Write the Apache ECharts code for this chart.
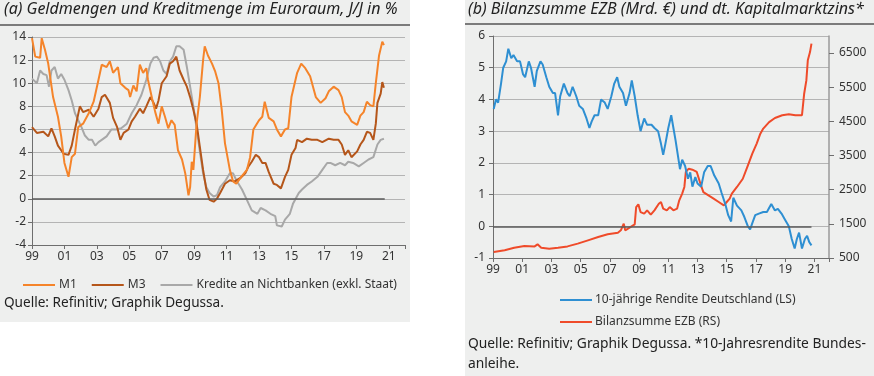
<!DOCTYPE html>
<html>
<head>
<meta charset="utf-8">
<script src="https://cdn.jsdelivr.net/npm/echarts@6/dist/echarts.min.js"></script>
<style>
  html, body { margin: 0; padding: 0; background: #fff; }
  #chart { width: 874px; height: 376px; }
</style>
</head>
<body>
<div id="chart"></div>
<script>
// --- panel (a): money supply and credit, y/y in % ---
const m1Years = [1999.0, 1999.2, 1999.5, 1999.6, 1999.8, 2000.0, 2000.3, 2000.6, 2000.8, 2001.0, 2001.25, 2001.45, 2001.65, 2001.85, 2002.15, 2002.5, 2002.8, 2003.1, 2003.3, 2003.6, 2003.8, 2004.0, 2004.3, 2004.45, 2004.75, 2004.95, 2005.05, 2005.25, 2005.45, 2005.65, 2005.85, 2006.05, 2006.15, 2006.4, 2006.6, 2006.8, 2007.0, 2007.2, 2007.4, 2007.6, 2007.8, 2008.0, 2008.25, 2008.45, 2008.65, 2008.75, 2008.85, 2008.95, 2009.15, 2009.35, 2009.55, 2009.65, 2009.85, 2010.1, 2010.3, 2010.5, 2010.7, 2010.9, 2011.2, 2011.4, 2011.6, 2011.9, 2012.25, 2012.45, 2012.65, 2013.0, 2013.2, 2013.35, 2013.6, 2013.9, 2014.1, 2014.35, 2014.6, 2014.8, 2015.0, 2015.35, 2015.6, 2015.85, 2016.15, 2016.5, 2016.8, 2017.1, 2017.3, 2017.6, 2017.9, 2018.1, 2018.3, 2018.5, 2018.7, 2019.05, 2019.25, 2019.45, 2019.65, 2019.85, 2020.05, 2020.2, 2020.4, 2020.6, 2020.7];
const m1Values = [13.9, 12.3, 12.2, 13.9, 12.9, 11.7, 8.8, 7.1, 5.4, 3.1, 1.9, 3.6, 3.9, 6.2, 6.5, 7.4, 8.4, 10.3, 11.6, 11.4, 11.9, 10.9, 11.4, 10.0, 9.6, 9.4, 8.8, 9.8, 9.3, 11.6, 10.9, 11.3, 10.3, 8.7, 7.5, 6.5, 8.0, 7.1, 6.1, 6.8, 6.4, 4.2, 3.4, 2.2, 0.3, 1.0, 3.2, 2.5, 6.5, 8.8, 12.0, 13.2, 12.4, 11.7, 11.0, 10.0, 7.7, 4.8, 2.5, 1.5, 1.3, 1.9, 2.5, 3.6, 6.0, 6.8, 7.1, 8.4, 7.0, 6.7, 6.0, 5.4, 6.0, 6.1, 8.8, 10.9, 11.7, 11.3, 10.6, 8.8, 8.3, 8.7, 9.3, 9.7, 9.4, 8.8, 7.5, 7.2, 6.7, 6.4, 7.2, 7.5, 8.4, 8.1, 8.0, 10.0, 12.4, 13.6, 13.3];

const m3Years = [1999.0, 1999.3, 1999.7, 2000.0, 2000.2, 2000.4, 2000.6, 2000.95, 2001.25, 2001.45, 2001.65, 2001.95, 2002.15, 2002.5, 2002.8, 2003.1, 2003.3, 2003.5, 2003.8, 2004.0, 2004.25, 2004.45, 2004.65, 2004.95, 2005.15, 2005.35, 2005.65, 2005.85, 2006.05, 2006.3, 2006.5, 2006.65, 2006.8, 2007.0, 2007.3, 2007.5, 2007.7, 2007.9, 2008.1, 2008.35, 2008.55, 2008.75, 2008.95, 2009.15, 2009.35, 2009.55, 2009.75, 2009.95, 2010.2, 2010.4, 2010.6, 2010.9, 2011.2, 2011.5, 2011.85, 2012.15, 2012.35, 2012.55, 2012.8, 2013.0, 2013.2, 2013.4, 2013.6, 2013.9, 2014.1, 2014.35, 2014.6, 2014.8, 2015.0, 2015.25, 2015.35, 2015.65, 2015.95, 2016.25, 2016.6, 2016.9, 2017.3, 2017.6, 2017.9, 2018.1, 2018.3, 2018.5, 2018.7, 2019.05, 2019.25, 2019.45, 2019.65, 2019.85, 2020.05, 2020.2, 2020.3, 2020.5, 2020.6, 2020.7];
const m3Values = [6.2, 5.7, 5.8, 5.4, 6.1, 5.4, 4.6, 3.9, 3.8, 4.6, 6.0, 8.0, 7.5, 7.7, 7.1, 7.8, 8.8, 9.0, 8.3, 7.0, 6.2, 5.1, 5.7, 6.0, 6.7, 7.1, 7.8, 7.4, 8.0, 8.8, 8.3, 7.8, 8.5, 10.0, 10.6, 11.7, 11.9, 12.3, 11.1, 10.3, 9.7, 8.8, 7.7, 6.5, 4.5, 2.5, 0.8, -0.1, -0.25, 0.0, 0.5, 1.3, 1.6, 1.5, 1.8, 2.2, 2.8, 3.2, 3.8, 3.6, 3.1, 3.1, 2.3, 1.3, 1.2, 0.9, 1.9, 2.5, 3.8, 4.4, 5.1, 4.9, 5.2, 5.1, 5.1, 4.9, 5.2, 5.1, 5.1, 4.7, 3.8, 4.2, 3.6, 4.1, 4.7, 5.1, 5.8, 5.7, 5.1, 6.5, 8.3, 9.1, 10.1, 9.6];

const creditYears = [1999.0, 1999.3, 1999.5, 1999.7, 1999.9, 2000.05, 2000.2, 2000.4, 2000.6, 2000.8, 2001.0, 2001.25, 2001.45, 2001.65, 2001.85, 2002.05, 2002.25, 2002.5, 2002.7, 2002.9, 2003.1, 2003.3, 2003.6, 2003.9, 2004.2, 2004.5, 2004.85, 2005.15, 2005.45, 2005.75, 2006.05, 2006.3, 2006.5, 2006.7, 2006.9, 2007.1, 2007.3, 2007.5, 2007.7, 2007.9, 2008.1, 2008.35, 2008.55, 2008.75, 2008.95, 2009.15, 2009.35, 2009.55, 2009.75, 2009.95, 2010.2, 2010.4, 2010.6, 2010.9, 2011.2, 2011.4, 2011.6, 2011.95, 2012.25, 2012.55, 2012.9, 2013.1, 2013.4, 2013.7, 2014.0, 2014.1, 2014.4, 2014.6, 2014.9, 2015.1, 2015.45, 2015.65, 2015.95, 2016.25, 2016.6, 2016.9, 2017.2, 2017.4, 2017.7, 2018.0, 2018.3, 2018.5, 2018.8, 2019.15, 2019.45, 2019.75, 2020.05, 2020.3, 2020.5, 2020.7];
const creditValues = [10.4, 10.0, 11.1, 10.8, 10.7, 9.7, 11.1, 11.4, 10.4, 10.8, 10.3, 9.4, 8.5, 7.4, 6.8, 6.2, 5.5, 5.1, 5.1, 4.6, 4.9, 5.1, 5.4, 6.0, 6.0, 6.1, 6.5, 7.4, 8.1, 9.0, 10.3, 11.7, 12.2, 12.3, 11.9, 11.1, 10.8, 11.9, 12.3, 13.2, 13.2, 12.9, 11.4, 9.7, 8.0, 6.1, 4.1, 2.2, 1.0, 0.5, 0.2, 0.3, 1.0, 1.5, 2.2, 2.2, 1.6, 0.8, -0.1, -1.0, -1.3, -0.8, -1.0, -1.3, -1.5, -2.3, -2.4, -1.8, -1.3, -0.4, 0.5, 0.8, 1.2, 1.5, 1.9, 2.5, 3.1, 3.1, 2.9, 3.1, 2.9, 3.2, 3.1, 2.8, 3.1, 3.4, 3.6, 4.7, 5.1, 5.2];

// --- panel (b): ECB balance sheet (bn EUR) and 10y Bund yield ---
const yieldYears = [1999.05, 1999.2, 1999.35, 1999.55, 1999.7, 1999.9, 2000.05, 2000.25, 2000.4, 2000.65, 2000.85, 2001.05, 2001.2, 2001.45, 2001.6, 2001.85, 2002.0, 2002.25, 2002.4, 2002.65, 2002.85, 2003.1, 2003.25, 2003.45, 2003.6, 2003.85, 2004.1, 2004.25, 2004.45, 2004.7, 2004.9, 2005.15, 2005.4, 2005.6, 2005.75, 2005.95, 2006.2, 2006.4, 2006.65, 2006.85, 2007.1, 2007.3, 2007.5, 2007.65, 2007.9, 2008.1, 2008.35, 2008.5, 2008.7, 2008.9, 2009.1, 2009.35, 2009.55, 2009.85, 2010.05, 2010.3, 2010.5, 2010.65, 2010.8, 2011.0, 2011.2, 2011.35, 2011.5, 2011.7, 2011.8, 2011.95, 2012.15, 2012.35, 2012.5, 2012.65, 2012.85, 2013.0, 2013.25, 2013.45, 2013.7, 2013.9, 2014.15, 2014.45, 2014.65, 2014.9, 2015.1, 2015.3, 2015.45, 2015.7, 2016.0, 2016.2, 2016.45, 2016.6, 2016.75, 2016.95, 2017.2, 2017.5, 2017.75, 2018.05, 2018.3, 2018.5, 2018.75, 2019.0, 2019.25, 2019.45, 2019.65, 2019.8, 2019.95, 2020.15, 2020.35, 2020.5, 2020.65, 2020.8];
const yieldValues = [3.7, 4.0, 3.9, 4.5, 5.0, 5.2, 5.6, 5.3, 5.4, 5.2, 5.2, 4.8, 4.7, 5.2, 5.0, 4.4, 4.9, 5.2, 5.1, 4.7, 4.4, 4.2, 4.2, 3.5, 4.1, 4.5, 4.2, 4.1, 4.4, 4.1, 3.8, 3.7, 3.4, 3.1, 3.3, 3.5, 3.5, 4.0, 3.9, 3.7, 4.1, 4.5, 4.7, 4.4, 4.2, 3.8, 4.2, 4.6, 4.1, 3.5, 3.0, 3.4, 3.2, 3.2, 3.1, 3.0, 2.6, 2.25, 2.6, 3.1, 3.5, 3.1, 2.7, 2.1, 1.8, 2.1, 1.9, 1.5, 1.7, 1.25, 1.55, 1.35, 1.25, 1.7, 1.9, 1.9, 1.6, 1.35, 1.05, 0.7, 0.35, 0.15, 0.9, 0.65, 0.5, 0.3, 0.0, -0.1, 0.1, 0.35, 0.4, 0.45, 0.45, 0.7, 0.5, 0.55, 0.4, 0.2, 0.0, -0.4, -0.7, -0.4, -0.2, -0.7, -0.4, -0.3, -0.5, -0.6];

const ecbYears = [1999.05, 1999.8, 2000.45, 2001.15, 2001.85, 2002.05, 2002.3, 2002.85, 2003.45, 2004.1, 2004.8, 2005.5, 2006.2, 2006.85, 2007.55, 2007.75, 2007.95, 2008.05, 2008.35, 2008.7, 2008.8, 2008.95, 2009.1, 2009.35, 2009.55, 2009.8, 2010.05, 2010.35, 2010.5, 2010.65, 2010.9, 2011.1, 2011.35, 2011.6, 2011.75, 2011.95, 2012.1, 2012.2, 2012.4, 2012.65, 2012.95, 2013.2, 2013.4, 2013.75, 2014.1, 2014.45, 2014.8, 2015.0, 2015.2, 2015.35, 2015.7, 2016.1, 2016.45, 2016.75, 2017.05, 2017.3, 2017.5, 2017.9, 2018.3, 2018.8, 2019.25, 2019.7, 2020.15, 2020.3, 2020.45, 2020.55, 2020.7, 2020.8];
const ecbValues = [676, 725, 800, 850, 840, 900, 800, 770, 800, 840, 920, 1017, 1115, 1193, 1240, 1310, 1505, 1310, 1390, 1485, 1990, 2070, 1845, 1800, 1895, 1770, 1895, 2090, 2140, 1945, 1895, 1990, 1895, 1945, 2190, 2385, 2580, 3020, 3115, 3085, 3020, 2675, 2430, 2335, 2240, 2140, 2040, 2140, 2240, 2385, 2580, 2820, 3215, 3555, 3850, 4140, 4290, 4480, 4600, 4680, 4710, 4680, 4680, 5310, 5700, 6290, 6530, 6775];

const leftTicksY = [-4, 14, 2];          // min, max, interval (% y/y)
const rightLeftTicksY = [-1, 6, 1];      // yield axis
const ecbAxisLabels = [500, 1500, 2500, 3500, 4500, 5500, 6500];
const xRange = [1999, 2022, 2];

const zip = (xs, ys) => xs.map((x, i) => [x, ys[i]])

const FONT = '"Noto Sans", "Open Sans", sans-serif'
const BG = '#eeefee'
const GRID_LINE = '#b4b4b4'
const AXIS_LINE = '#6e6e6e'
const TEXT = '#333'

const xAxisBase = (gridIndex) => ({
  type: 'value',
  gridIndex: gridIndex,
  min: xRange[0],
  max: xRange[1],
  interval: xRange[2],
  axisLine: { show: true, onZero: false, lineStyle: { color: AXIS_LINE, width: 1 } },
  axisTick: { show: true, length: 4, lineStyle: { color: AXIS_LINE } },
  splitLine: { show: false },
  axisLabel: {
    color: TEXT, fontFamily: FONT, fontSize: 12, margin: 6,
    formatter: v => (v >= 2022 ? '' : String(v % 100).padStart(2, '0'))
  }
})

const chart = echarts.init(document.getElementById('chart'), null, { renderer: 'canvas' })

chart.setOption({
  animation: false,
  backgroundColor: '#fff',
  textStyle: { fontFamily: FONT },
  graphic: [
    // panel backgrounds
    { type: 'rect', z: -10, shape: { x: 0, y: 0, width: 410, height: 322 }, style: { fill: BG } },
    { type: 'rect', z: -10, shape: { x: 465, y: 0, width: 409, height: 376 }, style: { fill: BG } },
    // titles + rules
    { type: 'text', left: 4, top: 1, style: { text: '(a) Geldmengen und Kreditmenge im Euroraum, J/J in %', font: 'italic 16px ' + FONT, fill: '#222' } },
    { type: 'line', shape: { x1: 0, y1: 25, x2: 410, y2: 25 }, style: { stroke: '#555', lineWidth: 1.5 } },
    { type: 'text', left: 468, top: 1, style: { text: '(b) Bilanzsumme EZB (Mrd. €) und dt. Kapitalmarktzins*', font: 'italic 16px ' + FONT, fill: '#222' } },
    { type: 'line', shape: { x1: 465, y1: 24, x2: 874, y2: 24 }, style: { stroke: '#555', lineWidth: 1.5 } },
    // sources
    { type: 'text', left: 4, top: 296, style: { text: 'Quelle: Refinitiv; Graphik Degussa.', font: '13.6px ' + FONT, fill: '#222' } },
    { type: 'text', left: 468, top: 337, style: { text: 'Quelle: Refinitiv; Graphik Degussa. *10-Jahresrendite Bundes-', font: '13.8px ' + FONT, fill: '#222' } },
    { type: 'text', left: 468, top: 357, style: { text: 'anleihe.', font: '13.8px ' + FONT, fill: '#222' } }
  ],
  grid: [
    { left: 32, top: 37, width: 373, height: 208 },
    { left: 493, top: 36, width: 336, height: 222 }
  ],
  legend: [
    {
      data: ['M1', 'M3', 'Kredite an Nichtbanken (exkl. Staat)'],
      icon: 'rect', left: 18, top: 274, itemWidth: 32, itemHeight: 2, itemGap: 15,
      textStyle: { color: TEXT, fontFamily: FONT, fontSize: 12, padding: [0, 0, 0, -1] }
    },
    {
      data: ['10-jährige Rendite Deutschland (LS)', 'Bilanzsumme EZB (RS)'],
      icon: 'rect', orient: 'vertical', left: 555, top: 289, itemWidth: 32, itemHeight: 2, itemGap: 10,
      textStyle: { color: TEXT, fontFamily: FONT, fontSize: 12, padding: [0, 0, 0, -2] }
    }
  ],
  xAxis: [xAxisBase(0), xAxisBase(1)],
  yAxis: [
    {
      type: 'value', gridIndex: 0,
      min: leftTicksY[0], max: leftTicksY[1], interval: leftTicksY[2],
      axisLine: { show: true, lineStyle: { color: AXIS_LINE } },
      axisTick: { show: true, length: 4, lineStyle: { color: AXIS_LINE } },
      splitLine: { show: true, lineStyle: { color: GRID_LINE, width: 1 } },
      axisLabel: { color: TEXT, fontFamily: FONT, fontSize: 12, margin: 6 }
    },
    {
      type: 'value', gridIndex: 1,
      min: rightLeftTicksY[0], max: rightLeftTicksY[1], interval: rightLeftTicksY[2],
      axisLine: { show: true, lineStyle: { color: AXIS_LINE } },
      axisTick: { show: true, length: 4, lineStyle: { color: AXIS_LINE } },
      splitLine: { show: true, lineStyle: { color: GRID_LINE, width: 1 } },
      axisLabel: { color: TEXT, fontFamily: FONT, fontSize: 12, margin: 8 }
    },
    {
      type: 'value', gridIndex: 1, position: 'right',
      min: 500, max: 7000,
      axisLine: { show: true, lineStyle: { color: '#9a9a9a', width: 1.5 } },
      axisTick: { show: true, length: 5, customValues: ecbAxisLabels, lineStyle: { color: AXIS_LINE } },
      splitLine: { show: false },
      axisLabel: {
        color: TEXT, fontFamily: FONT, fontSize: 12, margin: 10,
        customValues: ecbAxisLabels, formatter: v => String(v)
      }
    }
  ],
  series: [
    {
      name: 'Kredite an Nichtbanken (exkl. Staat)', type: 'line', xAxisIndex: 0, yAxisIndex: 0,
      data: zip(creditYears, creditValues), symbol: 'none',
      lineStyle: { color: '#a8a8a8', width: 2 }, itemStyle: { color: '#a8a8a8' },
      markLine: {
        silent: true, symbol: ['none', 'none'], label: { show: false },
        lineStyle: { color: '#5a5a5a', width: 1.5, type: 'solid' },
        data: [[{ coord: [1999, 0] }, { coord: [2020.75, 0] }]]
      }
    },
    {
      name: 'M3', type: 'line', xAxisIndex: 0, yAxisIndex: 0,
      data: zip(m3Years, m3Values), symbol: 'none',
      lineStyle: { color: '#b5561a', width: 2 }, itemStyle: { color: '#b5561a' }
    },
    {
      name: 'M1', type: 'line', xAxisIndex: 0, yAxisIndex: 0,
      data: zip(m1Years, m1Values), symbol: 'none',
      lineStyle: { color: '#f5842a', width: 2 }, itemStyle: { color: '#f5842a' }
    },
    {
      name: 'Bilanzsumme EZB (RS)', type: 'line', xAxisIndex: 1, yAxisIndex: 2,
      data: zip(ecbYears, ecbValues), symbol: 'none',
      lineStyle: { color: '#ef4b2a', width: 2 }, itemStyle: { color: '#ef4b2a' }
    },
    {
      name: '10-jährige Rendite Deutschland (LS)', type: 'line', xAxisIndex: 1, yAxisIndex: 1,
      data: zip(yieldYears, yieldValues), symbol: 'none',
      lineStyle: { color: '#2e8fd2', width: 2 }, itemStyle: { color: '#2e8fd2' },
      markLine: {
        silent: true, symbol: ['none', 'none'], label: { show: false },
        lineStyle: { color: '#5a5a5a', width: 1.5, type: 'solid' },
        data: [[{ coord: [1999, 0] }, { coord: [2020.8, 0] }]]
      }
    }
  ]
})
</script>
</body>
</html>
